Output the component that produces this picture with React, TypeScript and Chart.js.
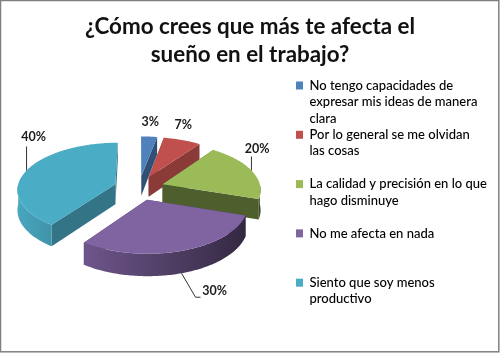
import React, { useEffect, useRef } from "react";
import { Chart, registerables } from "chart.js";

Chart.register(...registerables);

const titleLines = ["¿Cómo crees que más te afecta el", "sueño en el trabajo?"];
const categories = [
  ["No tengo capacidades de", "expresar mis ideas de manera", "clara"],
  ["Por lo general se me olvidan", "las cosas", ""],
  ["La calidad y precisión en lo que", "hago disminuye", ""],
  ["No me afecta en nada", "", ""],
  ["Siento que soy menos", "productivo", ""],
];
const values = [3, 7, 20, 30, 40];
const colors = ["#4F81BD", "#C0504D", "#9BBB59", "#8064A2", "#4BACC6"];

// presentation of the tilted pie
const TILT = 0.48;
const PERSPECTIVE = 0.1;
const DEPTH = 20;
const DRAW_ORDER = [0, 1, 4, 2, 3];
const WALL_SHADE = [0.62, 0.72, 0.5, 0.6, 0.68];
const LABEL_SHIFT = [[1, -15], [1, -15], [5.6, -21.5], [33, 18], [7, -33]];
const LEADER_TURNS: number[][][] = [[], [], [[0, -14]], [[14, 24], [19, 24]], [[0, -24]]];

const rgb = (hex: string) => [1, 3, 5].map((i) => parseInt(hex.slice(i, i + 2), 16));
const shade = (hex: string, f: number) => {
  const [r, g, b] = rgb(hex);
  return `rgb(${Math.round(r * f)},${Math.round(g * f)},${Math.round(b * f)})`;
};

const pie3d = {
  id: "pie3d",
  afterLayout(chart: any) {
    const area = chart.chartArea;
    area.left = 0;
    area.right = 278;
    area.width = 278;
    area.top = 76;
    area.bottom = 300;
    area.height = 224;
    chart.legend.left = 296;
    chart.legend.top = 79;
  },
  beforeDraw(chart: any) {
    const { ctx } = chart;
    ctx.save();
    ctx.strokeStyle = "#808080";
    ctx.lineWidth = 1.5;
    ctx.strokeRect(0.5, 0.5, 498.3, 351.3);
    ctx.restore();
  },
  beforeDatasetsDraw(chart: any) {
    const { ctx } = chart;
    const arcs = chart.getDatasetMeta(0).data;
    const total = values.reduce((a, b) => a + b, 0);

    const makeProject = (arc: any) => {
      const R = arc.outerRadius;
      const mid = (arc.startAngle + arc.endAngle) / 2;
      const e = (arc.options.offset || 0) / 4;
      const ox = Math.cos(mid) * e;
      const oy = Math.sin(mid) * e;
      return (angle: number | null, rr: number, down: number) => {
        const px = ox + (angle === null ? 0 : Math.cos(angle) * rr);
        const py = oy + (angle === null ? 0 : Math.sin(angle) * rr);
        const s = 1 + (py / R) * PERSPECTIVE;
        return [arc.x + px * s, arc.y + py * TILT * s + down * s];
      };
    };

    const poly = (pts: number[][], fill: any) => {
      ctx.beginPath();
      pts.forEach((p, i) => (i ? ctx.lineTo(p[0], p[1]) : ctx.moveTo(p[0], p[1])));
      ctx.closePath();
      ctx.fillStyle = fill;
      ctx.fill();
    };

    DRAW_ORDER.forEach((idx) => {
      const arc = arcs[idx];
      const project = makeProject(arc);
      const R = arc.outerRadius;
      const color = arc.options.backgroundColor;
      const a0 = arc.startAngle;
      const a1 = arc.endAngle;
      const steps = Math.max(6, Math.round(((a1 - a0) * 180) / Math.PI));
      const rim: number[] = [];
      for (let i = 0; i <= steps; i++) rim.push(a0 + ((a1 - a0) * i) / steps);

      // flat cut faces
      [a0, a1].forEach((a) => {
        poly(
          [project(null, 0, 0), project(a, R, 0), project(a, R, DEPTH), project(null, 0, DEPTH)],
          shade(color, WALL_SHADE[idx])
        );
      });

      // curved outer wall, only where it faces the viewer
      const front = rim.filter((a) => Math.sin(a) >= 0);
      if (front.length > 1) {
        const xs = front.map((a) => project(a, R, DEPTH)[0]);
        const xMin = Math.min(...xs);
        const xMax = Math.max(...xs);
        const grad = ctx.createLinearGradient(xMin, 0, xMax, 0);
        front.forEach((a, i) => {
          const t = (xs[i] - xMin) / Math.max(1, xMax - xMin);
          grad.addColorStop(Math.min(1, Math.max(0, t)), shade(color, 0.68 - 0.3 * Math.cos(a)));
        });
        poly(
          [
            ...front.map((a) => project(a, R, 0)),
            ...[...front].reverse().map((a) => project(a, R, DEPTH)),
          ],
          grad
        );
      }

      // top surface
      poly([project(null, 0, 0), ...rim.map((a) => project(a, R, 0))], color);
    });

    // value labels and leader lines
    ctx.font = "bold 12.5px Lato";
    ctx.textAlign = "center";
    ctx.textBaseline = "middle";
    arcs.forEach((arc: any, idx: number) => {
      const project = makeProject(arc);
      const mid = (arc.startAngle + arc.endAngle) / 2;
      const isFront = Math.sin(mid) > 0.5;
      const [rx, ry] = project(mid, arc.outerRadius, isFront ? DEPTH : 0);
      const turns = LEADER_TURNS[idx];
      if (turns.length) {
        ctx.beginPath();
        ctx.moveTo(rx, ry);
        turns.forEach((t) => ctx.lineTo(rx + t[0], ry + t[1]));
        ctx.strokeStyle = "#333333";
        ctx.lineWidth = 1;
        ctx.stroke();
      }
      ctx.fillStyle = "#1c1c1c";
      ctx.fillText(`${Math.round((values[idx] / total) * 100)}%`, rx + LABEL_SHIFT[idx][0], ry + LABEL_SHIFT[idx][1]);
    });
    return false;
  },
};

export default function App() {
  const ref = useRef<HTMLCanvasElement>(null);
  useEffect(() => {
    document.body.style.margin = "0";
    const chart = new Chart(ref.current as HTMLCanvasElement, {
      type: "pie",
      data: {
        labels: categories as any,
        datasets: [{ data: values, backgroundColor: colors, borderWidth: 0, offset: 100 }],
      },
      options: {
        responsive: false,
        animation: false,
        radius: 98,
        rotation: 0,
        layout: { padding: { left: 0, right: 0, top: 0, bottom: 5 } },
        plugins: {
          tooltip: { enabled: false },
          title: {
            display: true,
            text: titleLines,
            color: "#111111",
            font: { family: "Lato", size: 22.4, weight: "bold", lineHeight: 1.26 },
            padding: { top: 12.5, bottom: 6 },
          },
          legend: {
            position: "right",
            align: "start",
            fullSize: false,
            labels: {
              color: "#1c1c1c",
              font: { family: "Lato", size: 13, weight: "500", lineHeight: 1.264 },
              boxWidth: 7,
              boxHeight: 8,
              padding: 0,
              generateLabels: () =>
                categories.map((text, i) => ({
                  text,
                  fillStyle: colors[i],
                  strokeStyle: colors[i],
                  lineWidth: 0,
                  hidden: false,
                  index: i,
                })),
            },
          },
        },
      } as any,
      plugins: [pie3d],
    });
    return () => chart.destroy();
  }, []);
  return <canvas ref={ref} width={500} height={353} style={{ display: "block" }} />;
}
